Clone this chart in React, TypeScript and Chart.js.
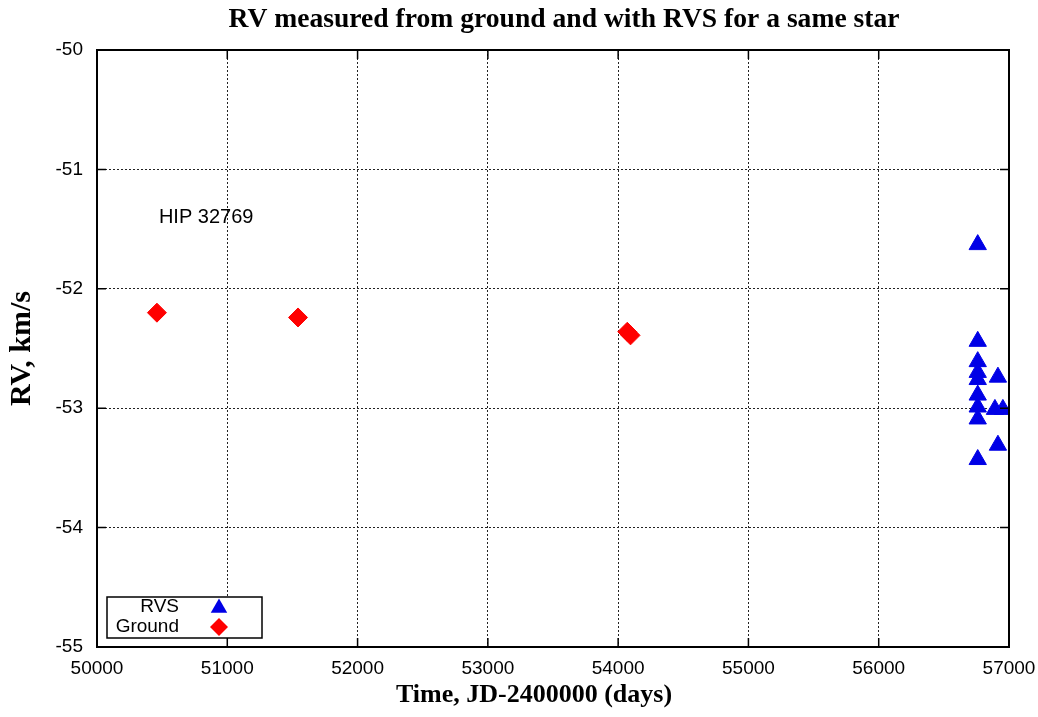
import { useEffect, useRef } from "react";
import { Chart, registerables } from "chart.js";

Chart.register(...registerables);

const chartTitle = "RV measured from ground and with RVS for a same star";
const xAxisTitle = "Time, JD-2400000 (days)";
const yAxisTitle = "RV, km/s";
const starLabel = "HIP 32769";
const starLabelX = 50475;
const starLabelY = -51.4;

const seriesNames = ["RVS", "Ground"];
const rvsTime = [56760, 56760, 56760, 56760, 56760, 56760, 56760, 56760, 56760, 56915, 56892, 56953, 56915];
const rvsValue = [-51.63, -52.44, -52.61, -52.7, -52.76, -52.89, -52.99, -53.09, -53.43, -52.74, -53.01, -53.01, -53.31];
const groundTime = [50460, 51543, 54070, 54095];
const groundValue = [-52.2, -52.24, -52.36, -52.39];

const xTicks = [50000, 51000, 52000, 53000, 54000, 55000, 56000, 57000];
const yTicks = [-50, -51, -52, -53, -54, -55];

const BLUE = "#0000e6";
const RED = "#ff0000";

function triPath(ctx: CanvasRenderingContext2D, x: number, y: number, r: number) {
  ctx.beginPath();
  ctx.moveTo(x, y - r);
  ctx.lineTo(x + r * Math.sin((2 * Math.PI) / 3), y + r / 2);
  ctx.lineTo(x - r * Math.sin((2 * Math.PI) / 3), y + r / 2);
  ctx.closePath();
}
function diamondPath(ctx: CanvasRenderingContext2D, x: number, y: number, r: number) {
  ctx.beginPath();
  ctx.moveTo(x - r, y);
  ctx.lineTo(x, y - r);
  ctx.lineTo(x + r, y);
  ctx.lineTo(x, y + r);
  ctx.closePath();
}

const decorPlugin = {
  id: "decor",
  afterDatasetsDraw(chart: any) {
    const { ctx, chartArea: a, scales } = chart;
    const xs = scales.x;
    const ys = scales.y;
    ctx.save();
    // inward ticks
    ctx.strokeStyle = "#000";
    ctx.lineWidth = 1.5;
    ctx.setLineDash([]);
    const tl = 9;
    ctx.beginPath();
    xTicks.forEach((v) => {
      const px = xs.getPixelForValue(v);
      ctx.moveTo(px, a.bottom);
      ctx.lineTo(px, a.bottom - tl);
      ctx.moveTo(px, a.top);
      ctx.lineTo(px, a.top + tl);
    });
    yTicks.forEach((v) => {
      const py = ys.getPixelForValue(v);
      ctx.moveTo(a.left, py);
      ctx.lineTo(a.left + tl, py);
      ctx.moveTo(a.right, py);
      ctx.lineTo(a.right - tl, py);
    });
    ctx.stroke();
    // frame
    ctx.lineWidth = 2;
    ctx.strokeRect(a.left, a.top, a.right - a.left, a.bottom - a.top);

    // star label
    ctx.fillStyle = "#000";
    ctx.font = "20px 'Liberation Sans', Arial, sans-serif";
    ctx.textAlign = "left";
    ctx.textBaseline = "middle";
    ctx.fillText(starLabel, xs.getPixelForValue(starLabelX), ys.getPixelForValue(starLabelY));

    // legend
    const bx = a.left + 10;
    const bw = 155;
    const bh = 41;
    const by = a.bottom - 9 - bh;
    ctx.fillStyle = "#fff";
    ctx.fillRect(bx, by, bw, bh);
    ctx.lineWidth = 1.5;
    ctx.strokeStyle = "#000";
    ctx.strokeRect(bx, by, bw, bh);
    ctx.fillStyle = "#000";
    ctx.font = "19px 'Liberation Sans', Arial, sans-serif";
    ctx.textAlign = "right";
    const row1 = by + 10;
    const row2 = by + 30;
    ctx.fillText(seriesNames[0], bx + 72, row1);
    ctx.fillText(seriesNames[1], bx + 72, row2);
    const mx = bx + 112;
    ctx.fillStyle = BLUE;
    triPath(ctx, mx, row1 + 1, 9.5);
    ctx.fill();
    ctx.fillStyle = RED;
    diamondPath(ctx, mx, row2, 9);
    ctx.fill();

    // titles
    ctx.fillStyle = "#000";
    ctx.textAlign = "center";
    ctx.textBaseline = "middle";
    ctx.font = "bold 27.6px 'Liberation Serif', 'Times New Roman', serif";
    ctx.fillText(chartTitle, 564, 20);
    ctx.font = "bold 26px 'Liberation Serif', 'Times New Roman', serif";
    ctx.fillText(xAxisTitle, 534, 695);
    ctx.save();
    ctx.translate(22, (a.top + a.bottom) / 2);
    ctx.rotate(-Math.PI / 2);
    ctx.font = "bold 30px 'Liberation Serif', 'Times New Roman', serif";
    ctx.fillText(yAxisTitle, 0, 0);
    ctx.restore();
    ctx.restore();
  },
};

export default function App() {
  const ref = useRef<HTMLCanvasElement | null>(null);
  useEffect(() => {
    if (!ref.current) return;
    const chart = new Chart(ref.current, {
      type: "scatter",
      data: {
        datasets: [
          {
            label: seriesNames[0],
            data: rvsTime.map((t, i) => ({ x: t, y: rvsValue[i] })),
            pointStyle: "triangle",
            pointRadius: 10,
            backgroundColor: BLUE,
            borderColor: BLUE,
            borderWidth: 1,
          },
          {
            label: seriesNames[1],
            data: groundTime.map((t, i) => ({ x: t, y: groundValue[i] })),
            pointStyle: "rectRot",
            pointRadius: 9.5,
            backgroundColor: RED,
            borderColor: RED,
            borderWidth: 1,
          },
        ],
      },
      options: {
        responsive: false,
        animation: false,
        events: [],
        layout: { padding: { top: 50, right: 29, left: 0, bottom: 0 } },
        plugins: {
          legend: { display: false },
          title: { display: false },
          tooltip: { enabled: false },
        },
        scales: {
          x: {
            type: "linear",
            min: 50000,
            max: 57000,
            afterBuildTicks: (s: any) => {
              s.ticks = xTicks.map((v) => ({ value: v }));
            },
            afterFit: (s: any) => {
              s.height = 70;
              s.paddingLeft = 0;
              s.paddingRight = 0;
            },
            ticks: {
              callback: (v: any) => String(v),
              font: { family: "'Liberation Sans', Arial, sans-serif", size: 19 },
              color: "#000",
              padding: 10,
              maxRotation: 0,
              autoSkip: false,
            },
            grid: { color: "#222", lineWidth: 1, drawTicks: false },
            border: { display: false, dash: [2, 2] },
          },
          y: {
            type: "linear",
            min: -55,
            max: -50,
            afterBuildTicks: (s: any) => {
              s.ticks = yTicks.map((v) => ({ value: v }));
            },
            afterFit: (s: any) => {
              s.width = 97;
              s.paddingTop = 0;
              s.paddingBottom = 0;
            },
            ticks: {
              callback: (v: any) => String(v),
              font: { family: "'Liberation Sans', Arial, sans-serif", size: 19 },
              color: "#000",
              padding: 14,
              autoSkip: false,
            },
            grid: { color: "#222", lineWidth: 1, drawTicks: false },
            border: { display: false, dash: [2, 2] },
          },
        },
      },
      plugins: [decorPlugin],
    });
    return () => chart.destroy();
  }, []);
  return (
    <canvas
      ref={ref}
      width={1038}
      height={717}
      style={{ position: "fixed", left: 0, top: 0, width: 1038, height: 717, display: "block", background: "#fff" }}
    />
  );
}
